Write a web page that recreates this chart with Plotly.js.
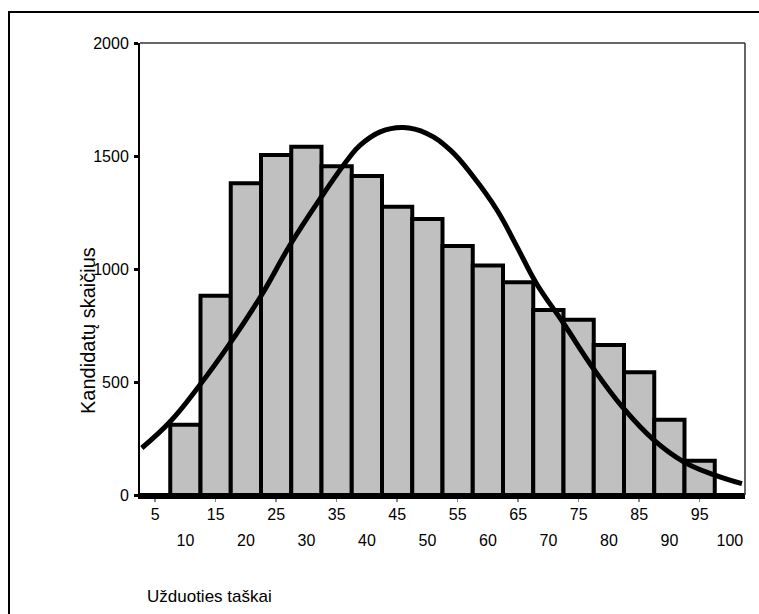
<!DOCTYPE html>
<html><head><meta charset="utf-8">
<script src="https://cdn.plot.ly/plotly-3.0.1.min.js"></script>
<style>
html,body{margin:0;padding:0;overflow:hidden;background:#fff}
#chart{position:absolute;left:0;top:0;width:759px;height:614px}
#frame{position:absolute;left:8px;top:11px;width:800px;height:700px;border:2px solid #000;pointer-events:none;z-index:5}
</style>
</head><body>
<div id="chart"></div><div id="frame"></div>
<script>
const scores = [5,10,15,20,25,30,35,40,45,50,55,60,65,70,75,80,85,90,95,100];
const counts = [0,311,882,1379,1504,1541,1455,1412,1275,1221,1102,1016,941,819,775,664,543,333,152,0];
const curveX = [2.8,7.5,12.2,17.4,22.6,27.3,32.3,37.0,38.9,42.2,46.0,49.9,53.8,57.6,61.5,64.8,68.0,72.5,77.4,82.4,87.4,92.3,97.3,102.0];
const curveY = [208,325,480,672,885,1106,1312,1490,1548,1607,1626,1600,1526,1408,1261,1099,937,760,561,384,244,148,90,50];
const oddTicks = [5,15,25,35,45,55,65,75,85,95];
const evenTicks = [10,20,30,40,50,60,70,80,90,100];
const yTicks = [0,500,1000,1500,2000];
const yTitle = 'Kandidatų skaičius';
const xTitle = 'Užduoties taškai';

const FONT = 'Liberation Sans, Arial, sans-serif';

const traces = [
  {type:'bar', x:scores, y:counts, width:5, xaxis:'x', yaxis:'y',
   marker:{color:'#c0c0c0', line:{color:'#000', width:4}}, hoverinfo:'skip'},
  {type:'scatter', mode:'lines', x:curveX, y:curveY, xaxis:'x', yaxis:'y',
   line:{color:'#000', width:5, shape:'spline', smoothing:1.2}, hoverinfo:'skip'},
  {type:'scatter', mode:'markers', x:[evenTicks[0]], y:[null], xaxis:'x2', yaxis:'y', showlegend:false, hoverinfo:'skip'}
];

const layout = {
  width:759, height:614,
  margin:{l:140, r:14, t:43, b:119},
  paper_bgcolor:'#fff', plot_bgcolor:'#fff',
  showlegend:false,
  bargap:0,
  font:{family:FONT, color:'#000', size:16},
  xaxis:{range:[2.5,102.5], tickmode:'array', tickvals:oddTicks, ticktext:oddTicks.map(String),
    ticks:'outside', ticklen:3, tickwidth:1.5, tickcolor:'#888',
    showline:true, linewidth:4, linecolor:'#000', showgrid:false, zeroline:false,
    tickfont:{family:FONT, size:16, color:'#000'}, ticklabelstandoff:-1},
  xaxis2:{range:[2.5,102.5], overlaying:'x', anchor:'y', side:'bottom', tickmode:'array',
    tickvals:evenTicks, ticktext:evenTicks.map(String), ticks:'', showline:false, showgrid:false, zeroline:false,
    tickfont:{family:FONT, size:16, color:'#000'}, ticklabelstandoff:34},
  yaxis:{range:[0,2000], tickmode:'array', tickvals:yTicks, ticktext:yTicks.map(String),
    ticks:'outside', ticklen:4, tickwidth:3, tickcolor:'#000',
    showline:true, linewidth:2, linecolor:'#000', showgrid:false, zeroline:false,
    tickfont:{family:FONT, size:16, color:'#000'}, ticklabelstandoff:2},
  shapes:[
    {type:'line', xref:'paper', yref:'paper', x0:0, x1:1, y0:1, y1:1, line:{color:'#333', width:1.5}},
    {type:'line', xref:'paper', yref:'paper', x0:1, x1:1, y0:0, y1:1, line:{color:'#333', width:1.5}}
  ],
  annotations:[
    {text:yTitle, xref:'paper', yref:'paper', x:-0.086, y:0.365, xanchor:'center', yanchor:'middle',
     textangle:-90, showarrow:false, font:{family:FONT, size:20, color:'#000'}},
    {text:xTitle, xref:'paper', yref:'paper', x:0.008, y:-0.2235, xanchor:'left', yanchor:'middle',
     showarrow:false, font:{family:FONT, size:17, color:'#000'}}
  ]
};

Plotly.newPlot('chart', traces, layout, {displayModeBar:false, staticPlot:true});
</script>
</body></html>
